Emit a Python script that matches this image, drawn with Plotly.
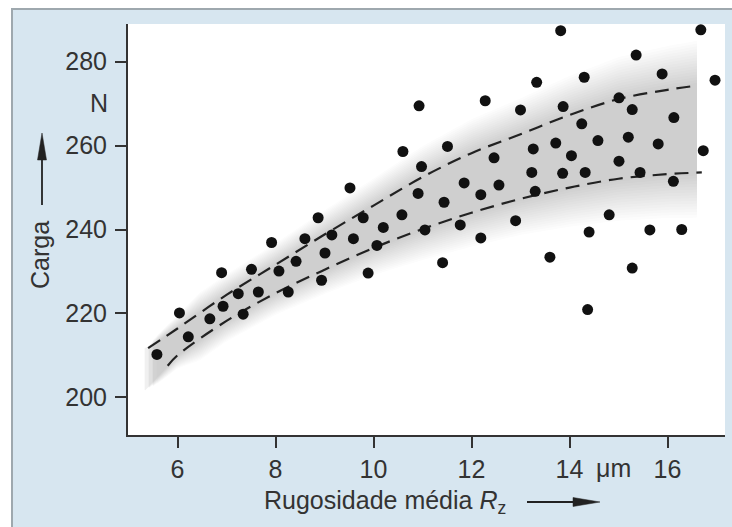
import numpy as np
import plotly.graph_objects as go

# ---- data ----
RZ = [5.58, 6.04, 6.22, 6.66, 6.90, 6.93, 7.24, 7.34, 7.51, 7.65, 7.92, 8.07, 8.26, 8.42,
      8.60, 8.87, 8.94, 9.01, 9.15, 9.52, 9.59, 9.79, 9.89, 10.07, 10.20, 10.58, 10.60,
      10.91, 10.93, 10.98, 11.05, 11.41, 11.44, 11.51, 11.77, 11.85, 12.19, 12.19, 12.28,
      12.46, 12.56, 12.90, 13.00, 13.23, 13.26, 13.30, 13.33, 13.60, 13.72, 13.82, 13.86,
      13.87, 14.04, 14.25, 14.30, 14.32, 14.37, 14.40, 14.58, 14.81, 15.01, 15.01, 15.20,
      15.28, 15.28, 15.36, 15.44, 15.64, 15.81, 15.89, 16.12, 16.13, 16.29, 16.68, 16.73,
      16.97]
CARGA = [210.2, 220.1, 214.4, 218.7, 229.7, 221.7, 224.7, 219.8, 230.5, 225.1, 236.9, 230.1,
         225.1, 232.4, 237.8, 242.8, 227.9, 234.4, 238.7, 249.9, 237.8, 242.8, 229.6, 236.2,
         240.5, 243.5, 258.6, 248.6, 269.5, 255.0, 239.9, 232.1, 246.5, 259.8, 241.1, 251.1,
         248.3, 238.0, 270.7, 257.1, 250.6, 242.1, 268.5, 253.6, 259.2, 249.1, 275.1, 233.4,
         260.6, 287.4, 253.4, 269.3, 257.6, 265.2, 276.3, 253.6, 220.9, 239.4, 261.2, 243.5,
         271.4, 256.3, 262.0, 268.6, 230.8, 281.6, 253.6, 239.9, 260.4, 277.1, 251.5, 266.7,
         240.0, 287.6, 258.8, 275.6]

UPPER_X = [5.4, 6, 7, 8, 9, 10, 11, 12, 13, 14, 15, 16, 16.6]
UPPER_Y = [211.7, 216.4, 224.4, 231.6, 238.8, 245.7, 252.5, 258.2, 262.7, 267.3, 271.1, 273.3, 274.3]
LOWER_X = [5.8, 6, 7, 8, 9, 10, 11, 12, 13, 14, 15, 16, 16.7]
LOWER_Y = [207.5, 210.0, 218.2, 224.8, 230.4, 235.6, 240.1, 244.0, 247.3, 250.0, 252.1, 253.2, 253.6]

X_TICKS = [6, 8, 10, 12, 14, 16]
Y_TICKS = [200, 220, 240, 260, 280]

FONT = "Liberation Sans, Arial, sans-serif"
TXT = "#333333"
FS = 25

W, H = 732, 527
L_M, R_M, T_M, B_M = 128, 7, 24, 92
PW, PH = W - L_M - R_M, H - T_M - B_M


def px(xp):
    return (xp - L_M) / PW


def py(yp):
    return (H - B_M - yp) / PH


fig = go.Figure()

# ---- shaded band (layers of translucent grey) ----
gx = np.linspace(5.25, 16.6, 140)
gu = np.interp(gx, UPPER_X, UPPER_Y)
slope_l = (LOWER_Y[1] - LOWER_Y[0]) / (LOWER_X[1] - LOWER_X[0])
gl = np.interp(gx, LOWER_X, LOWER_Y)
left = gx < LOWER_X[0]
gl[left] = LOWER_Y[0] + slope_l * (gx[left] - LOWER_X[0])
gap = gu - gl
wid = 2.4 + 0.40 * gap
taper = np.clip((gx - 5.25) / 1.2, 0.05, 1.0)
N = 16
for k in range(1, N + 1):
    t = k / N
    top = gu + t * wid * taper
    bot = gl - t * wid * taper
    m = gx >= 5.25 + 0.25 * t
    xs = gx[m]
    fig.add_trace(go.Scatter(
        x=np.concatenate([xs, xs[::-1]]), y=np.concatenate([top[m], bot[m][::-1]]),
        fill="toself", mode="none", fillcolor="rgba(80,80,80,0.017)",
        hoverinfo="skip", showlegend=False))

# ---- dashed curves ----
for xs, ys in ((UPPER_X, UPPER_Y), (LOWER_X, LOWER_Y)):
    fig.add_trace(go.Scatter(x=xs, y=ys, mode="lines",
                             line=dict(color="#222222", width=2.2, dash="14px,8px", shape="spline"),
                             hoverinfo="skip", showlegend=False))

# ---- points ----
fig.add_trace(go.Scatter(x=RZ, y=CARGA, mode="markers",
                         marker=dict(color="#111111", size=11, line=dict(width=0)),
                         showlegend=False))


def tri(p1, p2, p3):
    return "M {} {} L {} {} L {} {} Z".format(px(p1[0]), py(p1[1]), px(p2[0]), py(p2[1]),
                                                 px(p3[0]), py(p3[1]))


ARROW = "#222222"
shapes = [
    dict(type="rect", xref="paper", yref="paper", x0=px(12), x1=px(745), y0=py(545), y1=py(9),
         fillcolor="#d7e6f0", line=dict(color="#9ea8ae", width=2), layer="below"),
    dict(type="rect", xref="paper", yref="paper", x0=0, x1=1, y0=0, y1=1,
         fillcolor="white", line=dict(width=0), layer="below"),
    # y-axis arrow
    dict(type="line", xref="paper", yref="paper", x0=px(42), x1=px(42), y0=py(205), y1=py(155),
         line=dict(color=ARROW, width=1.8)),
    dict(type="path", xref="paper", yref="paper", path=tri((42, 133), (37.5, 160), (46.5, 160)),
         fillcolor=ARROW, line=dict(color=ARROW, width=0.5)),
    # x-axis arrow
    dict(type="line", xref="paper", yref="paper", x0=px(527), x1=px(580), y0=py(502), y1=py(502),
         line=dict(color=ARROW, width=1.8)),
    dict(type="path", xref="paper", yref="paper", path=tri((600, 502), (573, 497.5), (573, 506.5)),
         fillcolor=ARROW, line=dict(color=ARROW, width=0.5)),
]

annotations = [
    dict(text="Carga", xref="paper", yref="paper", x=px(40), y=py(255), textangle=-90,
         showarrow=False, font=dict(family=FONT, size=FS, color=TXT), xanchor="center", yanchor="middle"),
    dict(text="N", xref="paper", yref="paper", x=px(99), y=py(103), showarrow=False,
         font=dict(family=FONT, size=FS, color=TXT), xanchor="center", yanchor="middle"),
    dict(text="Rugosidade média <i>R</i><sub>z</sub>", xref="paper", yref="paper",
         x=px(262), y=py(502), showarrow=False, font=dict(family=FONT, size=FS, color=TXT),
         xanchor="left", yanchor="middle"),
    dict(text="μm", xref="x", yref="paper", x=14.9, y=py(468), showarrow=False,
         font=dict(family=FONT, size=FS, color=TXT), xanchor="center", yanchor="middle"),
]

x0 = 6 - (177.5 - L_M) / 49.0
x1 = x0 + PW / 49.0

fig.update_layout(
    width=W, height=H,
    margin=dict(l=L_M, r=R_M, t=T_M, b=B_M, pad=0),
    paper_bgcolor="white", plot_bgcolor="rgba(0,0,0,0)",
    shapes=shapes, annotations=annotations,
    font=dict(family=FONT, size=FS, color=TXT),
    xaxis=dict(range=[x0, x1], tickvals=X_TICKS, ticks="outside", ticklen=11, tickwidth=1.8,
               tickcolor="#333333", showline=True, linecolor="#333333", linewidth=2,
               showgrid=False, zeroline=False, mirror=False,
               tickfont=dict(family=FONT, size=FS, color=TXT)),
    yaxis=dict(range=[191, 289], tickvals=Y_TICKS, ticks="outside", ticklen=11, tickwidth=1.8,
               tickcolor="#333333", showline=True, linecolor="#333333", linewidth=2,
               showgrid=False, zeroline=False, mirror=False, ticklabelstandoff=3,
               tickfont=dict(family=FONT, size=FS, color=TXT)),
)

fig.write_html("out.html", config={"displayModeBar": False},
               post_script="document.body.style.margin='0';")
